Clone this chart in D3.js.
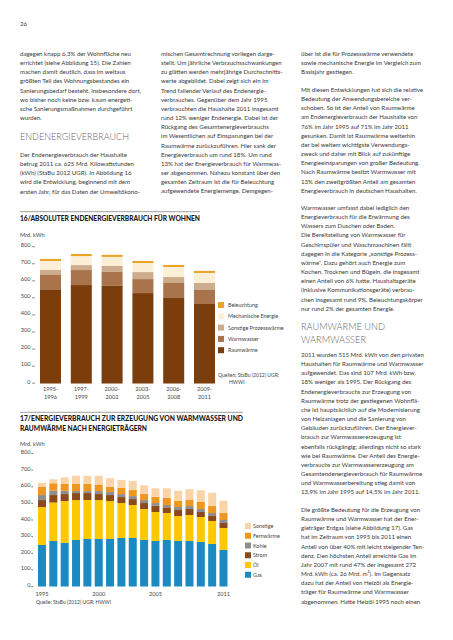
<!DOCTYPE html>
<html><head><meta charset="utf-8">
<script src="https://cdn.jsdelivr.net/npm/d3@7"></script>
<style>
html,body{margin:0;padding:0;background:#fff;}
svg{display:block;font-family:Lato,"Open Sans",sans-serif;}
.body{font-size:6.1px;fill:#3a3a3a;}
.head{font-size:10.5px;fill:#666;font-weight:300;}
.ctitle{font-size:6.6px;font-weight:900;fill:#1a1a1a;}
.tick{font-size:5.6px;fill:#444;}
.leg{font-size:5.4px;fill:#444;}
.src{font-size:5px;fill:#444;}
</style></head>
<body><svg id="page" width="453" height="640"></svg>
<script>
// ---------- DATA ----------
const periodStart = ["1995-","1997-","2000-","2003-","2006-","2009-"];
const periodEnd   = ["1996","1999","2002","2005","2008","2011"];
const raumwaerme16   = [548,577,572,530,501,466];
const warmwasser16   = [88,88,82,82,88,82];
const sonstProzess16 = [29,29,35,41,35,41];
const mechanisch16   = [53,53,53,53,59,59];
const beleuchtung16  = [12,12,12,12,12,12];
const legend16 = ["Beleuchtung","Mechanische Energie","Sonstige Prozesswärme","Warmwasser","Raumwärme"];

const years17 = [1995,1996,1997,1998,1999,2000,2001,2002,2003,2004,2005,2006,2007,2008,2009,2010,2011];
const gas17        = [250,274,262,280,286,286,286,292,292,280,274,280,274,274,268,256,220];
const oel17        = [228,231,252,240,234,234,228,210,198,186,174,162,150,156,150,138,132];
const strom17      = [42,45,42,42,42,36,36,36,36,36,38,34,36,36,30,30,30];
const kohle17      = [30,26,20,12,12,18,18,18,18,18,16,14,18,18,18,18,18];
const fernwaerme17 = [50,45,41,43,43,40,32,38,36,36,38,44,38,36,44,42,44];
const sonstige17   = [24,24,40,49,49,52,51,47,55,53,51,57,60,65,69,80,72];
const legend17 = ["Sonstige","Fernwärme","Kohle","Strom","Öl","Gas"];
const yearLabels17 = [1995,2000,2005,2011];
const yTicks = [0,100,200,300,400,500,600,700,800];

// ---------- TEXT ----------
const col1a = ["dagegen knapp 6,3% der Wohnfläche neu","errichtet (siehe Abbildung 15). Die Zahlen","machen damit deutlich, dass im weitaus","größten Teil des Wohnungsbestandes ein","Sanierungsbedarf besteht, insbesondere dort,","wo bisher noch keine bzw. kaum energeti-","sche Sanierungsmaßnahmen durchgeführt","wurden."];
const col1b = ["Der Endenergieverbrauch der Haushalte","betrug 2011 ca. 625 Mrd. Kilowattstunden","(kWh) (StaBu 2012 UGR). In Abbildung 16","wird die Entwicklung, beginnend mit dem","ersten Jahr, für das Daten der Umweltökono-"];
const col2 = ["mischen Gesamtrechnung vorliegen darge-","stellt. Um jährliche Verbrauchsschwankungen","zu glätten werden mehrjährige Durchschnitts-","werte abgebildet. Dabei zeigt sich ein im","Trend fallender Verlauf des Endenergie-","verbrauches. Gegenüber dem Jahr 1995","verbrauchten die Haushalte 2011 insgesamt","rund 12% weniger Endenergie. Dabei ist der","Rückgang des Gesamtenergieverbrauchs","im Wesentlichen auf Einsparungen bei der","Raumwärme zurückzuführen. Hier sank der","Energieverbrauch um rund 18%. Um rund","13% hat der Energieverbrauch für Warmwas-","ser abgenommen. Nahezu konstant über den","gesamten Zeitraum ist die für Beleuchtung","aufgewendete Energiemenge. Demgegen-"];
const col3a = ["über ist die für Prozesswärme verwendete","sowie mechanische Energie im Vergleich zum","Basisjahr gestiegen."];
const col3b = ["Mit diesen Entwicklungen hat sich die relative","Bedeutung der Anwendungsbereiche ver-","schoben. So ist der Anteil von Raumwärme","am Endenergieverbrauch der Haushalte von","76% im Jahr 1995 auf 71% im Jahr 2011","gesunken. Damit ist Raumwärme weiterhin","der bei weitem wichtigste Verwendungs-","zweck und daher mit Blick auf zukünftige","Energieeinsparungen von großer Bedeutung.","Nach Raumwärme besitzt Warmwasser mit","13% den zweitgrößten Anteil am gesamten","Energieverbrauch in deutschen Haushalten."];
const col3c = ["Warmwasser umfasst dabei lediglich den","Energieverbrauch für die Erwärmung des","Wassers zum Duschen oder Baden.","Die Bereitstellung von Warmwasser für","Geschirrspüler und Waschmaschinen fällt","dagegen in die Kategorie „sonstige Prozess-","wärme“. Dazu gehört auch Energie zum","Kochen, Trocknen und Bügeln, die insgesamt","einen Anteil von 6% hatte. Haushaltsgeräte","(inklusive Kommunikationsgeräte) verbrau-","chen insgesamt rund 9%, Beleuchtungskörper","nur rund 2% der gesamten Energie."];
const col3d = ["2011 wurden 515 Mrd. kWh von den privaten","Haushalten für Raumwärme und Warmwasser","aufgewendet. Das sind 107 Mrd. kWh bzw.","18% weniger als 1995. Der Rückgang des","Endenergieverbrauchs zur Erzeugung von","Raumwärme trotz der gestiegenen Wohnflä-","che ist hauptsächlich auf die Modernisierung","von Heizanlagen und die Sanierung von","Gebäuden zurückzuführen. Der Energiever-","brauch zur Warmwassererzeugung ist","ebenfalls rückgängig; allerdings nicht so stark","wie bei Raumwärme. Der Anteil des Energie-","verbrauchs zur Warmwassererzeugung am","Gesamtendenergieverbrauch für Raumwärme","und Warmwasserbereitung stieg damit von","13,9% im Jahr 1995 auf 14,5% im Jahr 2011."];
const col3e = ["Die größte Bedeutung für die Erzeugung von","Raumwärme und Warmwasser hat der Ener-","gieträger Erdgas (siehe Abbildung 17). Gas","hat im Zeitraum von 1995 bis 2011 einen","Anteil von über 40% mit leicht steigender Ten-","denz. Den höchsten Anteil erreichte Gas im","Jahr 2007 mit rund 47% der insgesamt 272","Mrd. kWh (ca. 26 Mrd. m³). Im Gegensatz","dazu hat der Anteil von Heizöl als Energie-","träger für Raumwärme und Warmwasser","abgenommen. Hatte Heizöl 1995 noch einen"];

const svg = d3.select("#page");
const LH = 9.16;
function lines(arr, x, y0, cls){
  svg.append("g").selectAll("text").data(arr).join("text")
    .attr("class", cls).attr("x", x).attr("y", (d,i)=> y0 + i*LH).text(d=>d);
}
svg.append("text").attr("class","body").attr("x",20).attr("y",26).text("26");
lines(col1a, 20, 56, "body");
svg.append("text").attr("class","head").attr("x",20).attr("y",139.5).attr("textLength",109).attr("lengthAdjust","spacingAndGlyphs").text("ENDENERGIEVERBRAUCH");
lines(col1b, 20, 157, "body");
lines(col2, 161, 56, "body");
lines(col3a, 301, 56, "body");
lines(col3b, 301, 92, "body");
lines(col3c, 301, 210, "body");
svg.append("text").attr("class","head").attr("x",301).attr("y",330).attr("textLength",84).attr("lengthAdjust","spacingAndGlyphs").text("RAUMWÄRME UND");
svg.append("text").attr("class","head").attr("x",301).attr("y",342.5).attr("textLength",65).attr("lengthAdjust","spacingAndGlyphs").text("WARMWASSER");
lines(col3d, 301, 357, "body");
lines(col3e, 301, 512, "body");

// ---------- CHART 16 ----------
(function(){
  const keys = ["raum","ww","sonst","mech","bel"];
  const colors = {raum:"#7a3d0b", ww:"#a9744b", sonst:"#cdab8d", mech:"#fcefd8", bel:"#e9a325"};
  const rows = periodStart.map((p,i)=>({raum:raumwaerme16[i], ww:warmwasser16[i], sonst:sonstProzess16[i], mech:mechanisch16[i], bel:beleuchtung16[i], i}));
  const stack = d3.stack().keys(keys)(rows);
  const x = d3.scaleBand().domain(d3.range(periodStart.length)).range([40,215]).paddingInner(0.318).paddingOuter(0);
  const y = d3.scaleLinear().domain([0,800]).range([383.5,247]);
  const g = svg.append("g");
  g.append("line").attr("x1",20).attr("x2",200).attr("y1",211.7).attr("y2",211.7).attr("stroke","#888").attr("stroke-width",0.8);
  g.append("text").attr("class","ctitle").attr("x",20).attr("y",221).attr("textLength",180).attr("lengthAdjust","spacingAndGlyphs").text("16/ABSOLUTER ENDENERGIEVERBRAUCH FÜR WOHNEN");
  g.append("text").attr("class","tick").attr("x",20).attr("y",237).text("Mrd. kWh");
  const ty = g.append("g").selectAll("g").data(yTicks).join("g");
  ty.append("text").attr("class","tick").attr("text-anchor","end").attr("x",30.5).attr("y",d=>y(d)).text(d=>d);
  ty.append("line").attr("x1",32).attr("x2",35).attr("y1",d=>y(d)-0.3).attr("y2",d=>y(d)-0.3).attr("stroke","#444").attr("stroke-width",0.6);
  g.append("g").selectAll("g").data(stack).join("g").attr("fill",d=>colors[d.key])
    .selectAll("rect").data(d=>d).join("rect")
    .attr("x",d=>x(d.data.i)).attr("width",x.bandwidth())
    .attr("y",d=>y(d[1])).attr("height",d=>y(d[0])-y(d[1]));
  g.append("g").selectAll("text").data(periodStart).join("text").attr("class","tick").attr("text-anchor","middle")
    .attr("x",(d,i)=>x(i)+x.bandwidth()/2).attr("y",391).text(d=>d);
  g.append("g").selectAll("text").data(periodEnd).join("text").attr("class","tick").attr("text-anchor","middle")
    .attr("x",(d,i)=>x(i)+x.bandwidth()/2).attr("y",399).text(d=>d);
  const legColors = [colors.bel, colors.mech, colors.sonst, colors.ww, colors.raum];
  const lg = g.append("g").selectAll("g").data(legend16).join("g").attr("transform",(d,i)=>`translate(218,${305+i*11.3})`);
  lg.append("rect").attr("x",0).attr("y",-3).attr("width",6).attr("height",6).attr("fill",(d,i)=>legColors[i]);
  lg.append("text").attr("class","leg").attr("x",10).attr("y",2).text(d=>d);
  g.append("text").attr("class","src").attr("x",218).attr("y",377).text("Quellen: StaBu (2012) UGR;");
  g.append("text").attr("class","src").attr("x",229).attr("y",383.5).text("HWWI");
})();

// ---------- CHART 17 ----------
(function(){
  const keys = ["gas","oel","strom","kohle","fern","sonst"];
  const colors = {gas:"#1b8ac1", oel:"#fdc800", strom:"#8b4a1b", kohle:"#8e8e8e", fern:"#ef961f", sonst:"#fad4a6"};
  const rows = years17.map((yr,i)=>({gas:gas17[i], oel:oel17[i], strom:strom17[i], kohle:kohle17[i], fern:fernwaerme17[i], sonst:sonstige17[i], yr}));
  const stack = d3.stack().keys(keys)(rows);
  const x = d3.scaleBand().domain(years17).range([38,227.5]).paddingInner(0.295).paddingOuter(0);
  const y = d3.scaleLinear().domain([0,800]).range([586.5,453.5]);
  const g = svg.append("g");
  g.append("line").attr("x1",20).attr("x2",243).attr("y1",412.3).attr("y2",412.3).attr("stroke","#888").attr("stroke-width",0.8);
  g.append("text").attr("class","ctitle").attr("x",20).attr("y",420.8).attr("textLength",223).attr("lengthAdjust","spacingAndGlyphs").text("17/ENERGIEVERBRAUCH ZUR ERZEUGUNG VON WARMWASSER UND");
  g.append("text").attr("class","ctitle").attr("x",20).attr("y",430.8).attr("textLength",127).attr("lengthAdjust","spacingAndGlyphs").text("RAUMWÄRME NACH ENERGIETRÄGERN");
  g.append("text").attr("class","tick").attr("x",20).attr("y",446).text("Mrd. kWh");
  const ty = g.append("g").selectAll("g").data(yTicks).join("g");
  ty.append("text").attr("class","tick").attr("text-anchor","end").attr("x",30.5).attr("y",d=>y(d)+0.5).text(d=>d);
  ty.append("line").attr("x1",31.3).attr("x2",33).attr("y1",d=>y(d)).attr("y2",d=>y(d)).attr("stroke","#444").attr("stroke-width",0.7);
  g.append("g").selectAll("g").data(stack).join("g").attr("fill",d=>colors[d.key])
    .selectAll("rect").data(d=>d).join("rect")
    .attr("x",d=>x(d.data.yr)).attr("width",x.bandwidth())
    .attr("y",d=>y(d[1])).attr("height",d=>y(d[0])-y(d[1]));
  g.append("g").selectAll("text").data(yearLabels17).join("text").attr("class","tick").attr("text-anchor","middle")
    .attr("x",d=>x(d)+x.bandwidth()/2).attr("y",595.5).text(d=>d);
  g.append("text").attr("class","src").attr("x",36).attr("y",603.5).text("Quelle: StaBu (2012) UGR; HWWI");
  const legColors = [colors.sonst, colors.fern, colors.kohle, colors.strom, colors.oel, colors.gas];
  const lg = g.append("g").selectAll("g").data(legend17).join("g").attr("transform",(d,i)=>`translate(245,${526+i*9.75})`);
  lg.append("rect").attr("x",0).attr("y",-3).attr("width",6).attr("height",6).attr("fill",(d,i)=>legColors[i]);
  lg.append("text").attr("class","leg").attr("x",8).attr("y",2).text(d=>d);
})();
</script></body></html>
